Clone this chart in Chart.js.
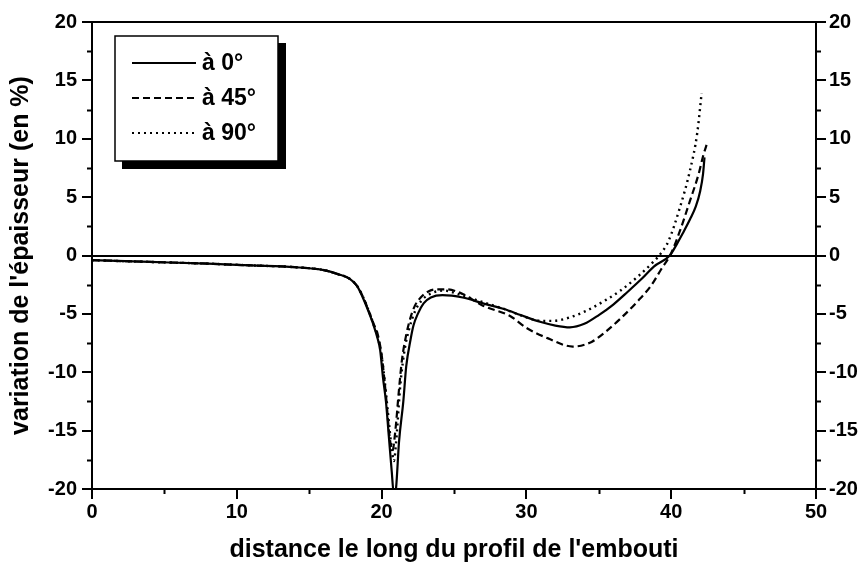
<!DOCTYPE html>
<html>
<head>
<meta charset="utf-8">
<script src="https://cdn.jsdelivr.net/npm/chart.js@4"></script>
<style>
  html, body { margin: 0; padding: 0; background: #fff; }
  #wrap { width: 863px; height: 562px; }
</style>
</head>
<body>
<div id="wrap"><canvas id="thick"></canvas></div>
<script>
// distance along the profile (x) and thickness variation in % (y), one pair of arrays per angle
var x0 = [0, 4, 8, 11, 14, 16, 17, 17.8, 18.3, 18.7, 19.1, 19.4, 19.7, 19.9, 20.1, 20.3, 20.5, 20.7, 20.85,
  21.0, 21.2, 21.5, 21.7, 22.0, 22.2, 22.5, 22.9, 23.4, 24.2, 25.6, 27, 28.5, 29.6, 31, 32, 33, 34, 35, 36,
  37, 38, 38.8, 39.9, 40.4, 40.8, 41.3, 41.7, 42.0, 42.2, 42.3];
var y0 = [-0.4, -0.55, -0.7, -0.85, -1.0, -1.25, -1.6, -2.0, -2.6, -3.6, -4.8, -5.8, -7.0, -8.1, -10.5, -12.5, -15.5, -18.5, -20.5,
  -19.9, -16, -12.5, -9.5, -7.2, -6.0, -5.0, -4.1, -3.6, -3.4, -3.6, -4.1, -4.6, -5.1, -5.7, -6.0, -6.15, -5.85, -5.1, -4.2,
  -3.1, -1.95, -0.95, 0, 1.0, 1.9, 3.1, 4.2, 5.5, 7.0, 8.4];

var x45 = [0, 4, 8, 11, 14, 16, 17, 17.8, 18.3, 18.7, 19.1, 19.5, 19.7, 20.0, 20.3, 20.55, 20.75,
  20.95, 21.2, 21.4, 21.7, 22.0, 22.3, 22.7, 23.2, 23.8, 24.5, 25.6, 27, 28.9, 30, 31.5, 33.2, 34.5, 35.5,
  36.5, 37.7, 38.6, 39.3, 40.0, 40.6, 41.3, 41.9, 42.2, 42.5];
var y45 = [-0.4, -0.55, -0.7, -0.85, -1.0, -1.25, -1.6, -2.0, -2.6, -3.5, -4.7, -6.0, -6.6, -8.5, -12, -15.5, -16.7,
  -15, -11.5, -9.0, -6.8, -5.3, -4.3, -3.6, -3.1, -2.9, -2.9, -3.3, -4.3, -5.2, -6.2, -7.1, -7.8, -7.4, -6.5,
  -5.4, -3.9, -2.6, -1.2, 0.2, 2.1, 4.7, 7.0, 8.5, 9.7];

var x90 = [0, 4, 8, 11, 14, 16, 17, 17.8, 18.3, 18.7, 19.1, 19.5, 19.8, 20.1, 20.4, 20.65, 20.85,
  21.0, 21.3, 21.6, 21.9, 22.3, 22.8, 23.5, 24.3, 25.5, 27, 28.5, 30, 31, 31.8, 33, 34.2, 35.5,
  36.5, 37.7, 38.8, 39.3, 39.8, 40.6, 41.3, 41.8, 42.1];
var y90 = [-0.4, -0.55, -0.7, -0.85, -1.0, -1.25, -1.6, -2.0, -2.6, -3.5, -4.7, -6.1, -7.3, -9.5, -13, -16, -17.6,
  -16, -11, -8.0, -6.3, -4.8, -3.8, -3.2, -3.0, -3.4, -4.0, -4.6, -5.3, -5.6, -5.6, -5.3, -4.7, -3.8,
  -3.0, -1.8, -0.5, 0.2, 1.2, 4.1, 7.3, 10.5, 13.9];

var labels = ['à 0°', 'à 45°', 'à 90°'];
var dashes = [[], [7, 4], [2, 4]];

var yTicks = [-20, -15, -10, -5, 0, 5, 10, 15, 20];
var yMinor = [-17.5, -12.5, -7.5, -2.5, 2.5, 7.5, 12.5, 17.5];
var xMinor = [5, 15, 25, 35, 45];

var FONT = "'Liberation Sans', Arial, sans-serif";

function pts(xs, ys) {
  var out = [];
  for (var i = 0; i < xs.length; i++) out.push({x: xs[i], y: ys[i]});
  return out;
}

var series = [pts(x0, y0), pts(x45, y45), pts(x90, y90)];
var outputData = [];
for (var i = 0; i < series.length; i++) {
  outputData.push({
    label: labels[i],
    data: series[i],
    borderColor: '#000',
    borderWidth: i === 2 ? 2.4 : 2.2,
    borderDash: dashes[i],
    pointRadius: 0,
    fill: false,
    cubicInterpolationMode: 'monotone',
    yAxisID: 'y'
  });
}

// frame, minor ticks and the boxed legend with its drop shadow
var decor = {
  id: 'decor',
  afterDraw: function (chart) {
    var ctx = chart.ctx, a = chart.chartArea;
    var xs = chart.scales.x, ys = chart.scales.y;
    ctx.save();
    ctx.strokeStyle = '#000';
    ctx.lineWidth = 2;
    ctx.strokeRect(a.left, a.top, a.right - a.left, a.bottom - a.top);

    ctx.beginPath();
    yMinor.forEach(function (v) {
      var p = Math.round(ys.getPixelForValue(v)) + 0.5;
      ctx.moveTo(a.left - 5, p); ctx.lineTo(a.left, p);
      ctx.moveTo(a.right, p); ctx.lineTo(a.right + 5, p);
    });
    xMinor.forEach(function (v) {
      var p = Math.round(xs.getPixelForValue(v)) + 0.5;
      ctx.moveTo(p, a.bottom); ctx.lineTo(p, a.bottom + 5);
    });
    ctx.stroke();

    // legend
    var bx = 115, by = 36, bw = 163, bh = 125;
    ctx.fillStyle = '#000';
    ctx.fillRect(bx + 7, by + 7, bw + 1, bh + 1);
    ctx.fillStyle = '#fff';
    ctx.fillRect(bx, by, bw, bh);
    ctx.lineWidth = 1.5;
    ctx.strokeRect(bx, by, bw, bh);
    ctx.font = 'bold 23px ' + FONT;
    ctx.textBaseline = 'middle';
    ctx.fillStyle = '#000';
    chart.data.datasets.forEach(function (ds, k) {
      var ly = 63 + k * 35;
      ctx.beginPath();
      ctx.setLineDash(ds.borderDash);
      ctx.lineWidth = 2.2;
      ctx.moveTo(132, ly); ctx.lineTo(196, ly);
      ctx.stroke();
      ctx.setLineDash([]);
      ctx.fillText(ds.label, 202, ly + 1);
    });
    ctx.restore();
  }
};

var tickFont = {family: FONT, size: 20, weight: 'bold'};

const config = {
  type: 'line',
  data: { datasets: outputData },
  options: {
    animation: false,
    responsive: true,
    maintainAspectRatio: false,
    layout: { padding: { top: 22, left: 0, right: 0, bottom: 0 } },
    plugins: { legend: { display: false }, tooltip: { enabled: false } },
    scales: {
      x: {
        type: 'linear', min: 0, max: 50,
        ticks: { stepSize: 10, color: '#000', font: tickFont, padding: 1, maxRotation: 0 },
        grid: { drawOnChartArea: false, color: '#000', tickLength: 10, lineWidth: 2 },
        border: { display: true, color: '#000', width: 2 },
        title: { display: true, text: "distance le long du profil de l'embouti", color: '#000',
          font: {family: FONT, size: 25, weight: 'bold'}, padding: {top: 0, bottom: -3} },
        afterFit: function (s) { s.height = 73; }
      },
      y: {
        type: 'linear', position: 'left', min: -20, max: 20,
        afterBuildTicks: function (s) { s.ticks = yTicks.map(function (v) { return {value: v}; }); },
        ticks: { color: '#000', font: tickFont, padding: 5 },
        grid: {
          color: function (c) { return c.tick && c.tick.value === 0 ? '#000' : 'rgba(0,0,0,0)'; },
          tickColor: '#000', tickLength: 10, lineWidth: 2
        },
        border: { display: true, color: '#000', width: 2 },
        title: { display: true, text: "variation de l'épaisseur (en %)", color: '#000',
          font: {family: FONT, size: 25, weight: 'bold'}, padding: {top: 6, bottom: 0} },
        afterFit: function (s) { s.width = 92; }
      },
      y2: {
        type: 'linear', position: 'right', min: -20, max: 20,
        afterBuildTicks: function (s) { s.ticks = yTicks.map(function (v) { return {value: v}; }); },
        ticks: { color: '#000', font: tickFont, padding: 3 },
        grid: { drawOnChartArea: false, color: '#000', tickLength: 10, lineWidth: 2 },
        border: { display: true, color: '#000', width: 2 },
        afterFit: function (s) { s.width = 47; }
      }
    }
  },
  plugins: [decor]
};

new Chart(document.getElementById('thick'), config);
</script>
</body>
</html>
